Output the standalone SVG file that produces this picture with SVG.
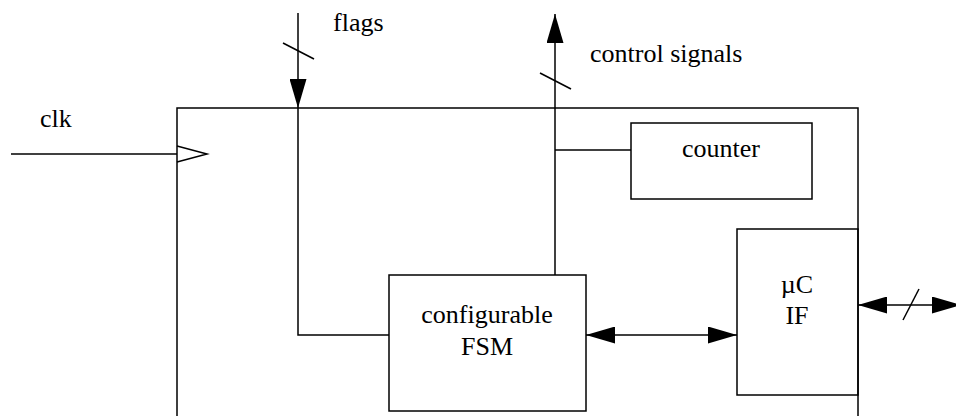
<svg xmlns="http://www.w3.org/2000/svg" width="956" height="416" viewBox="0 0 956 416">
  <style>
    .box { fill: none; stroke: #000; stroke-width: 1.5; }
    .wire { fill: none; stroke: #000; stroke-width: 1.5; }
    .lbl { font-family: Times, 'Times New Roman', 'Liberation Serif', 'Nimbus Roman', 'DejaVu Serif', serif; font-size: 26px; fill: #000; }
    .mid { text-anchor: middle; }
  </style>
  <defs>
    <marker id="head" viewBox="0 0 29 17" markerWidth="29" markerHeight="17" refX="29" refY="8.5" markerUnits="userSpaceOnUse" orient="auto-start-reverse">
      <path d="M0,0 L29,8.5 L0,17 Z" fill="#000"/>
    </marker>
  </defs>
  <rect width="956" height="416" fill="#fff"/>

  <!-- controller outline (bottom edge lies below the visible area) -->
  <g id="controller">
    <rect class="box" x="177" y="108" width="681" height="330"/>
  </g>

  <g id="counter">
    <rect class="box" x="631" y="123" width="181" height="76"/>
    <text class="lbl mid" x="721" y="157">counter</text>
  </g>

  <g id="fsm">
    <rect class="box" x="389" y="275" width="197" height="136"/>
    <text class="lbl mid" x="487" y="323">configurable</text>
    <text class="lbl mid" x="487" y="355">FSM</text>
  </g>

  <g id="uc-if">
    <rect class="box" x="737" y="229" width="121" height="166"/>
    <text class="lbl mid" x="797" y="293">µC</text>
    <text class="lbl mid" x="797" y="324">IF</text>
  </g>

  <g id="connectors">
    <!-- clock input with edge symbol -->
    <path class="wire" d="M11,154 H177"/>
    <path class="wire" d="M177,146 L207,154 L177,162"/>
    <text class="lbl" x="40" y="127">clk</text>

    <!-- flags bus into the FSM -->
    <path class="wire" d="M298,13 V108" marker-end="url(#head)"/>
    <path class="wire" d="M298,108 V335 H389"/>
    <path class="wire" d="M283,43 L314,59"/>
    <text class="lbl" x="333" y="31">flags</text>

    <!-- control signals out of the FSM, tapped by the counter -->
    <path class="wire" d="M555,275 V14" marker-end="url(#head)"/>
    <path class="wire" d="M555,150 H631"/>
    <path class="wire" d="M540,73 L571,89"/>
    <text class="lbl" x="590" y="62">control signals</text>

    <!-- FSM to microcontroller interface -->
    <path class="wire" d="M586,335 H737" marker-start="url(#head)" marker-end="url(#head)"/>

    <!-- external microcontroller bus -->
    <path class="wire" d="M858,305 H961" marker-start="url(#head)" marker-end="url(#head)"/>
    <path class="wire" d="M919,289 L903,320"/>
  </g>
</svg>
